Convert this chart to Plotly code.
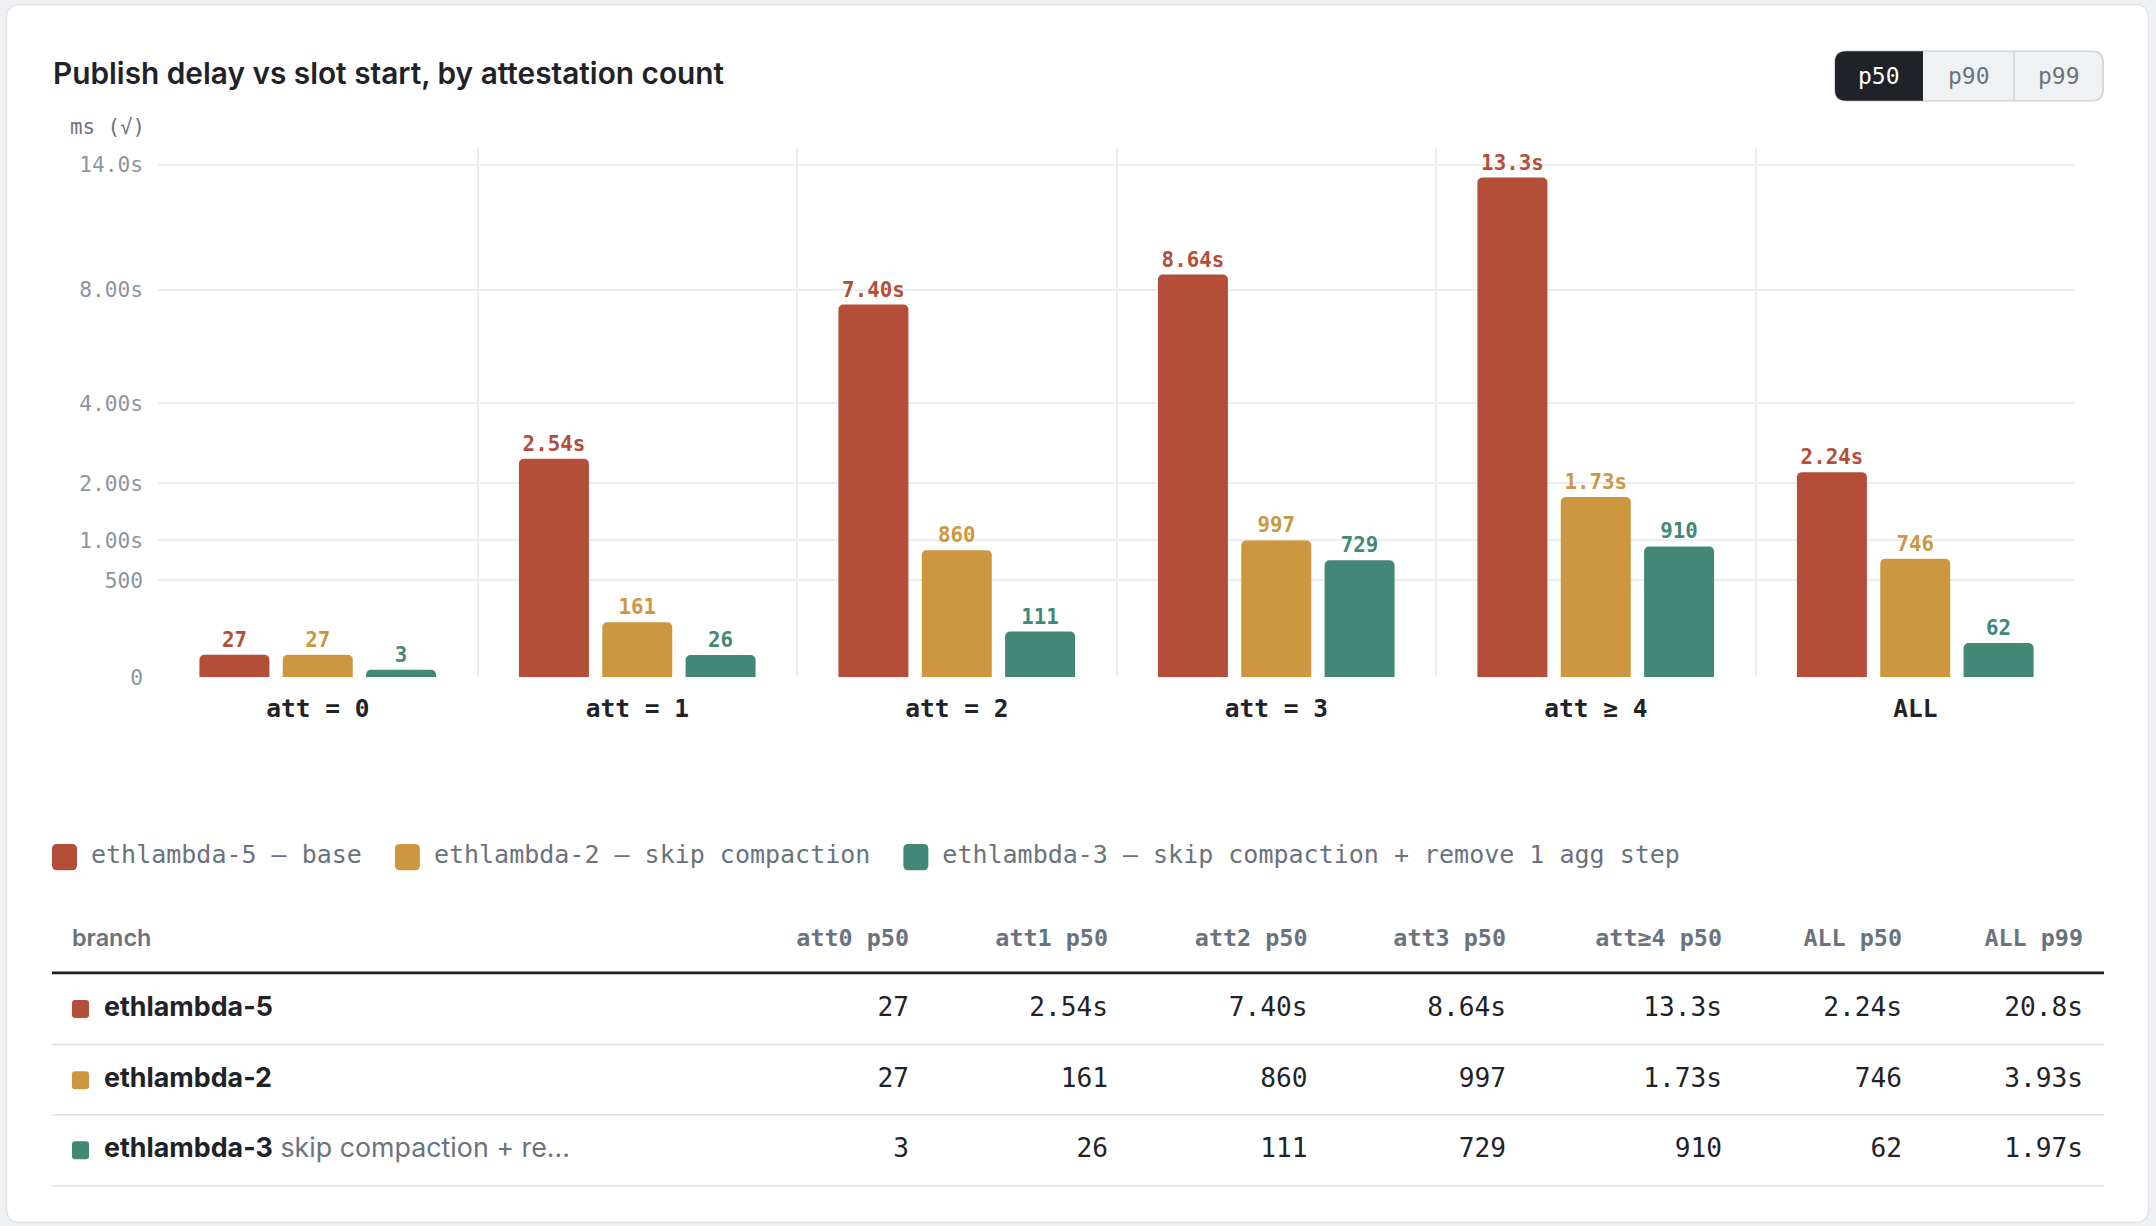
import math
import plotly.graph_objects as go

W, H_FIG = 2156, 1226
H = 1211                   # effective vertical extent used for positioning (canvas shows ~1211 px of figure)
MONO = "DejaVu Sans Mono"
SANS = "Inter"

# ---------------- data ----------------
categories = ["att = 0", "att = 1", "att = 2", "att = 3", "att ≥ 4", "ALL"]
branches = ["ethlambda-5", "ethlambda-2", "ethlambda-3"]
descriptions = ["base", "skip compaction", "skip compaction + remove 1 agg step"]
table_notes = ["", "", "skip compaction + re…"]
p50_ethlambda5 = [27, 2540, 7400, 8640, 13300, 2240]
p50_ethlambda2 = [27, 161, 860, 997, 1730, 746]
p50_ethlambda3 = [3, 26, 111, 729, 910, 62]
all_p99 = [20800, 3930, 1970]
series_colors = ["#B54E39", "#CD973F", "#438877"]
y_tick_values = [0, 500, 1000, 2000, 4000, 8000, 14000]
y_tick_labels = ["0", "500", "1.00s", "2.00s", "4.00s", "8.00s", "14.0s"]
table_headers = ["att0 p50", "att1 p50", "att2 p50", "att3 p50", "att≥4 p50", "ALL p50", "ALL p99"]
percentile_options = ["p50", "p90", "p99"]
title_text = "Publish delay vs slot start, by attestation count"
y_axis_label = "ms (√)"

series = [p50_ethlambda5, p50_ethlambda2, p50_ethlambda3]

# ---------------- styles / layout constants ----------------
DARK = "#1F2328"
GRAY = "#6A737D"
TICKGRAY = "#8C959F"
GRID = "#EBEDF0"
CARD_BORDER = "#E1E4E8"
OUTER_BG = "#EEF0F2"


def fmt(ms):
    if ms < 1000:
        return f"{ms:.0f}"
    s = ms / 1000
    return f"{s:.2f}s" if s < 10 else f"{s:.1f}s"


def rounded_path(x0, y0, x1, y1, r, tl=True, tr=True, br=True, bl=True, conv=None):
    if conv is None:
        conv = lambda x, y: (x, y)

    def p(x, y):
        X, Y = conv(x, y)
        return f"{X:.6f},{Y:.6f}"

    s = f"M{p(x0 + (r if tl else 0), y0)}"
    s += f" L{p(x1 - (r if tr else 0), y0)}"
    if tr:
        s += f" Q{p(x1, y0)} {p(x1, y0 + r)}"
    s += f" L{p(x1, y1 - (r if br else 0))}"
    if br:
        s += f" Q{p(x1, y1)} {p(x1 - r, y1)}"
    s += f" L{p(x0 + (r if bl else 0), y1)}"
    if bl:
        s += f" Q{p(x0, y1)} {p(x0, y1 - r)}"
    s += f" L{p(x0, y0 + (r if tl else 0))}"
    if tl:
        s += f" Q{p(x0, y0)} {p(x0 + r, y0)}"
    return s + " Z"


to_paper = lambda x, y: (x / W, 1 - y / H)

fig = go.Figure()

# ---------------- bars ----------------
for name, desc, vals, col in zip(branches, descriptions, series, series_colors):
    fig.add_trace(go.Bar(
        x=categories,
        y=[math.sqrt(v) for v in vals],
        text=[fmt(v) for v in vals],
        textposition="outside",
        constraintext="none",
        cliponaxis=False,
        textfont=dict(family=MONO, size=20.8, color=col, weight="bold"),
        marker=dict(color=col, cornerradius=5, line=dict(width=0)),
        name=f"{name} — {desc}",
        showlegend=False,
        hoverinfo="skip",
        xaxis="x", yaxis="y",
    ))

# ---------------- table & legend (pixel-space helper axes) ----------------
col_right = [909, 1108, 1307.5, 1506, 1722, 1902, 2083]
header_y = 938
row_y = [1006.5, 1077.5, 1147.5]
name_x = 104

fig.add_trace(go.Scatter(
    x=col_right, y=[header_y] * len(table_headers), text=table_headers,
    mode="text", textposition="middle left",
    textfont=dict(family=MONO, size=23.4, color=GRAY, weight="bold"),
    xaxis="x2", yaxis="y2", showlegend=False, hoverinfo="skip",
))
fig.add_trace(go.Scatter(
    x=[72], y=[header_y], text=["branch"], mode="text", textposition="middle right",
    textfont=dict(family=SANS, size=23.4, color=GRAY, weight=600),
    xaxis="x2", yaxis="y2", showlegend=False, hoverinfo="skip",
))
for i, (name, vals, p99, note) in enumerate(zip(branches, series, all_p99, table_notes)):
    cells = [fmt(v) for v in vals] + [fmt(p99)]
    fig.add_trace(go.Scatter(
        x=col_right, y=[row_y[i]] * len(cells), text=cells,
        mode="text", textposition="middle left",
        textfont=dict(family=MONO, size=26.2, color=DARK),
        xaxis="x2", yaxis="y2", showlegend=False, hoverinfo="skip",
    ))
    label = f"<b>{name}</b>"
    if note:
        label += f" <span style='color:{GRAY}'>{note}</span>"
    fig.add_trace(go.Scatter(
        x=[name_x], y=[row_y[i]], text=[label],
        mode="text", textposition="middle right",
        textfont=dict(family=SANS, size=26.8, color=DARK),
        xaxis="x2", yaxis="y2", showlegend=False, hoverinfo="skip",
    ))

# legend
legend_y = 855
LEG_FS = 25
leg_x = 52
legend_swatches = []
for name, desc, col in zip(branches, descriptions, series_colors):
    label = f"{name} — {desc}"
    legend_swatches.append((leg_x, col))
    fig.add_trace(go.Scatter(
        x=[leg_x + 39], y=[legend_y], text=[label], mode="text", textposition="middle right",
        textfont=dict(family=MONO, size=LEG_FS, color=GRAY),
        xaxis="x2", yaxis="y2", showlegend=False, hoverinfo="skip",
    ))
    leg_x = leg_x + 39 + len(label) * 0.602 * LEG_FS + 33

# ---------------- shapes ----------------
shapes = []
# card
shapes.append(dict(type="path", xref="paper", yref="paper", layer="below",
                   path=rounded_path(6.5, 4.5, 2148.5, 1219.5, 14, conv=to_paper),
                   fillcolor="white", line=dict(color=CARD_BORDER, width=1.5)))
# legend swatches
for sx, col in legend_swatches:
    shapes.append(dict(type="path", xref="x2", yref="y2", layer="above",
                       path=rounded_path(sx, legend_y - 13, sx + 25, legend_y + 13, 5),
                       fillcolor=col, line=dict(width=0)))
# table colour keys
for i, col in enumerate(series_colors):
    shapes.append(dict(type="path", xref="x2", yref="y2", layer="above",
                       path=rounded_path(72, row_y[i] - 9, 89, row_y[i] + 9, 3),
                       fillcolor=col, line=dict(width=0)))
# table lines
shapes.append(dict(type="line", xref="x2", yref="y2", x0=52, x1=2104, y0=970.5, y1=970.5,
                   line=dict(color=DARK, width=2.6)))
for ly in [1042, 1112, 1183]:
    shapes.append(dict(type="line", xref="x2", yref="y2", x0=52, x1=2104, y0=ly, y1=ly,
                       line=dict(color="#DDE1E5", width=1.6)))
# toggle
tg_x = [1835, 1923, 2014, 2103]
tg_y0, tg_y1 = 51, 100.5
shapes.append(dict(type="path", xref="x2", yref="y2", layer="above",
                   path=rounded_path(tg_x[0], tg_y0, tg_x[3], tg_y1, 11),
                   fillcolor="#EFF1F3", line=dict(color="#D6DBE0", width=2)))
shapes.append(dict(type="path", xref="x2", yref="y2", layer="above",
                   path=rounded_path(tg_x[0], tg_y0, tg_x[1], tg_y1, 11, tr=False, br=False),
                   fillcolor=DARK, line=dict(width=0)))
shapes.append(dict(type="line", xref="x2", yref="y2", x0=tg_x[2], x1=tg_x[2], y0=tg_y0 + 1, y1=tg_y1 - 1,
                   line=dict(color="#D6DBE0", width=2)))

# ---------------- annotations ----------------
annotations = [
    dict(text=title_text, x=51, y=73, xref="x2", yref="y2", xanchor="left", yanchor="middle",
         showarrow=False, font=dict(family=SANS, size=29.8, color=DARK, weight=600)),
    dict(text=y_axis_label, x=68, y=127, xref="x2", yref="y2", xanchor="left", yanchor="middle",
         showarrow=False, font=dict(family=MONO, size=20.8, color=GRAY)),
]
for i, opt in enumerate(percentile_options):
    annotations.append(dict(
        text=opt, x=(tg_x[i] + tg_x[i + 1]) / 2, y=(tg_y0 + tg_y1) / 2, xref="x2", yref="y2",
        xanchor="center", yanchor="middle", showarrow=False,
        font=dict(family=MONO, size=23, color="white" if i == 0 else GRAY)))

# ---------------- layout ----------------
plot_left, plot_right = 158, 2075
plot_top, plot_bottom = 147, 675.5

fig.update_layout(
    width=W, height=H_FIG,
    margin=dict(l=0, r=0, t=0, b=0),
    paper_bgcolor=OUTER_BG,
    plot_bgcolor="rgba(0,0,0,0)",
    barmode="group",
    bargap=0.2175,
    bargroupgap=0.16,
    showlegend=False,
    shapes=shapes,
    annotations=annotations,
    xaxis=dict(
        domain=[plot_left / W, plot_right / W], anchor="y",
        type="category", range=[-0.5, len(categories) - 0.5],
        tickson="boundaries", showgrid=True, gridcolor=GRID, gridwidth=1.5,
        ticks="", showline=False, zeroline=False,
        tickfont=dict(family=MONO, size=24.5, color=DARK, weight="bold"),
        ticklabelstandoff=14, fixedrange=True,
    ),
    yaxis=dict(
        domain=[(H - plot_bottom) / H, (H - plot_top) / H], anchor="x",
        range=[0, 122.3],
        tickmode="array",
        tickvals=[math.sqrt(v) for v in y_tick_values],
        ticktext=y_tick_labels,
        showgrid=True, gridcolor=GRID, gridwidth=1.5,
        ticks="", showline=False, zeroline=False,
        tickfont=dict(family=MONO, size=21.2, color=TICKGRAY),
        ticklabelstandoff=14, fixedrange=True,
    ),
    xaxis2=dict(domain=[0, 1], range=[0, W], visible=False, anchor="y2", fixedrange=True),
    yaxis2=dict(domain=[0, 1], range=[H, 0], visible=False, anchor="x2", fixedrange=True),
)

fig.write_html("out.html")
